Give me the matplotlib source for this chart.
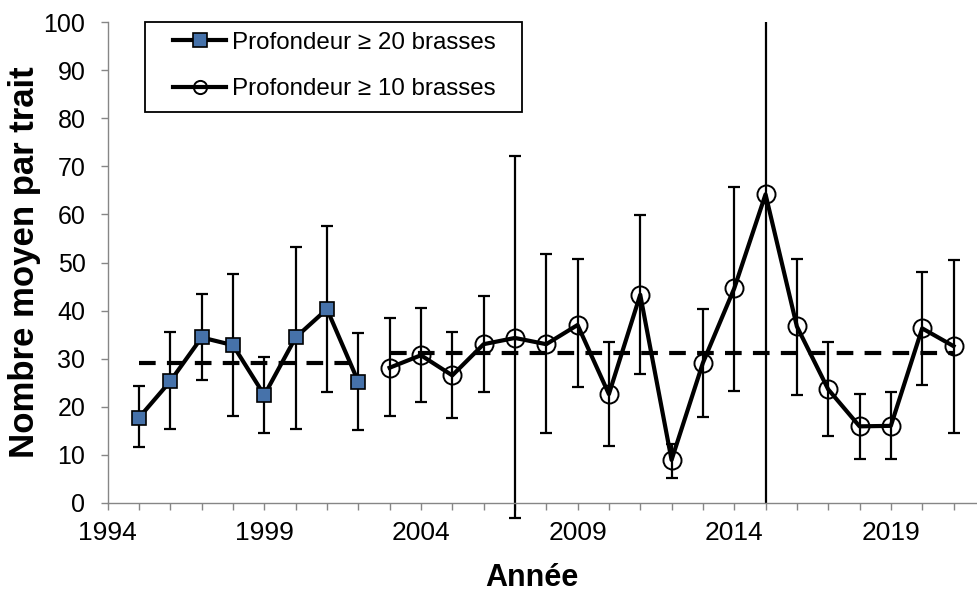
import numpy as np
import matplotlib
matplotlib.use('Agg')
import matplotlib.pyplot as plt
from matplotlib.patches import Rectangle

plt.rcParams['font.family'] = ['Liberation Sans', 'DejaVu Sans']

################     Data    ####################
years_20 = [1995, 1996, 1997, 1998, 1999, 2000, 2001, 2002]
mean_20 = [17.7, 25.3, 34.4, 32.8, 22.4, 34.4, 40.3, 25.2]
low_20 = [11.5, 15.4, 25.6, 18.1, 14.6, 15.4, 23.1, 15.1]
high_20 = [24.2, 35.5, 43.5, 47.7, 30.4, 53.2, 57.7, 35.4]
avg_20 = 29.1

years_10 = list(range(2003, 2022))
mean_10 = [28.1, 30.7, 26.5, 33.0, 34.3, 33.0, 37.0, 22.6, 43.3, 8.9,
           29.1, 44.6, 64.2, 36.7, 23.6, 15.9, 16.0, 36.3, 32.6]
low_10 = [18.1, 21.0, 17.7, 23.0, -3.1, 14.5, 24.0, 11.9, 26.7, 5.2,
          17.8, 23.3, 0.0, 22.5, 13.8, 9.0, 9.2, 24.6, 14.5]
high_10 = [38.4, 40.6, 35.6, 43.1, 72.1, 51.7, 50.7, 33.4, 59.9, 12.2,
           40.3, 65.8, 100.0, 50.8, 33.4, 22.7, 23.0, 48.0, 50.5]
avg_10 = 31.2

label_20 = 'Profondeur ≥ 20 brasses'
label_10 = 'Profondeur ≥ 10 brasses'

################     Plot    ####################
fig = plt.figure(figsize=(9.77, 5.92), dpi=100)
ax = fig.add_axes([0.1102, 0.1508, 0.8898, 0.8115])

blue = '#4672AA'
axis_grey = '#868686'

def errbars(x, m, lo, hi, caps=True):
    x = np.array(x)
    m = np.array(m)
    yerr = [m - np.array(lo), np.array(hi) - m]
    eb = ax.errorbar(x, m, yerr=yerr, fmt='none', ecolor='black',
                     elinewidth=1.6, capsize=4 if caps else 0, capthick=1.6,
                     zorder=2)
    for art in eb.lines[1] + eb.lines[2]:
        art.set_clip_on(False)

errbars(years_20, mean_20, low_20, high_20)
# the 2015 bar runs off the frame: no caps shown there
keep = [i for i, y in enumerate(years_10) if y != 2015]
skip = [i for i, y in enumerate(years_10) if y == 2015]
errbars([years_10[i] for i in keep], [mean_10[i] for i in keep],
        [low_10[i] for i in keep], [high_10[i] for i in keep])
errbars([years_10[i] for i in skip], [mean_10[i] for i in skip],
        [low_10[i] for i in skip], [high_10[i] for i in skip], caps=False)

# mean dashed lines
ax.plot([years_20[0], years_20[-1]], [avg_20, avg_20], color='black', lw=3,
        linestyle=(0, (4.0, 2.7)), zorder=3)
ax.plot([years_10[0], years_10[-1]], [avg_10, avg_10], color='black', lw=3,
        linestyle=(0, (4.0, 2.7)), zorder=3)

# series
ax.plot(years_20, mean_20, color='black', lw=3, marker='s', markersize=9.5,
        markerfacecolor=blue, markeredgecolor='black', markeredgewidth=1.2,
        zorder=4, label=label_20)
ax.plot(years_10, mean_10, color='black', lw=3, marker='o', markersize=13,
        markerfacecolor='none', markeredgecolor='black', markeredgewidth=1.4,
        zorder=4, label=label_10)

################     Axes    ####################
ax.set_xlim(1994, 2021.75)
ax.set_ylim(0, 100)
ax.set_xticks(np.arange(1994, 2021, 5))
ax.set_xticks(np.arange(1994, 2022, 1), minor=True)
ax.set_yticks(np.arange(0, 101, 10))

for s in ['top', 'right']:
    ax.spines[s].set_visible(False)
for s in ['left', 'bottom']:
    ax.spines[s].set_color(axis_grey)
    ax.spines[s].set_linewidth(1.0)

ax.tick_params(axis='both', which='both', direction='out', length=5,
               width=1.0, color=axis_grey, labelcolor='black')
ax.tick_params(axis='x', which='both', pad=8, labelsize=19)
ax.tick_params(axis='y', pad=11, labelsize=18)

ax.set_xlabel('Année', fontsize=22, fontweight='bold')
ax.set_ylabel('Nombre moyen par trait', fontsize=25, fontweight='bold')
ax.xaxis.set_label_coords(0.488, -0.126)
ax.yaxis.set_label_coords(-0.077, 0.5)

################     Legend    ####################
leg = ax.legend(loc='center left', bbox_to_anchor=(0.0751, 0.909), fontsize=17.4,
                frameon=False, borderaxespad=0, borderpad=0,
                handlelength=2.2, handletextpad=0.25, labelspacing=1.0)
leg_sizes = [10, 9.5]
for line, ms in zip(leg.get_lines(), leg_sizes):
    line.set_markersize(ms)
ax.add_patch(Rectangle((0.0429, 0.8139), 0.4337, 0.1861, transform=ax.transAxes,
                       facecolor='white', edgecolor='black', lw=1.3,
                       clip_on=False, zorder=5))
leg.set_zorder(6)

fig.savefig('out.png', dpi=100)
